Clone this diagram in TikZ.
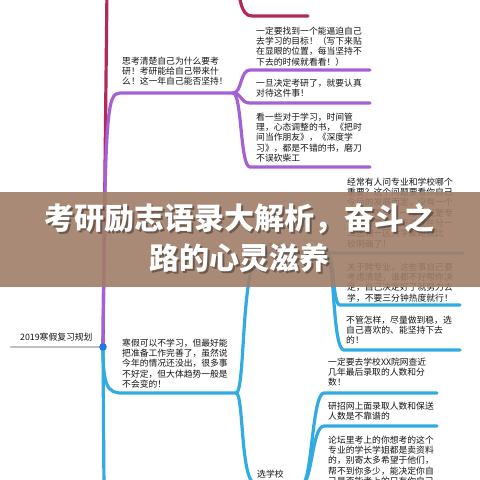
\documentclass[tikz,border=0pt]{standalone}
\usepackage{fontspec}
\newfontfamily\cjk{Noto Sans CJK SC}
\usepackage{xcolor}
\usepackage{tikz}
\usetikzlibrary{calc}
\definecolor{branchred}{RGB}{178, 42, 92}
\definecolor{branchpurple}{RGB}{166, 96, 214}
\definecolor{branchcyan}{RGB}{48, 172, 226}
\definecolor{rootgray}{RGB}{192, 192, 192}
\definecolor{hubblue}{RGB}{36, 118, 228}
\definecolor{bannerbrown}{RGB}{160, 126, 104}
\definecolor{notegray}{RGB}{20, 20, 20}
\newcommand{\bannertext}{考研励志语录大解析，奋斗之\\路的心灵滋养}

\begin{document}
\begin{tikzpicture}[x=1pt, y=-1pt,
  branchline/.style={line width=3.2pt, line cap=round},
  redbranch/.style={branchline, color=branchred},
  purplebranch/.style={branchline, color=branchpurple},
  cyanbranch/.style={branchline, color=branchcyan},
  note/.style={font=\cjk\fontsize{8.8}{10.3}\selectfont, align=left, anchor=north west, inner sep=0pt, text=notegray},
  topic/.style={font=\cjk\fontsize{8.8}{10.3}\selectfont, anchor=west, inner sep=0pt, text=notegray},
  titletext/.style={font=\cjk\bfseries\fontsize{30}{40}\selectfont, align=center, inner sep=0pt, text=white}]
\useasboundingbox (0,0) rectangle (480,480);
\clip (0,0) rectangle (480,480);
\fill[white] (0,0) rectangle (480,480);

% Junction points
\coordinate (rootstart) at (11,347);
\coordinate (hub) at (103,347);
\coordinate (redtop) at (107,-10);
\coordinate (redsub) at (236,-22);
\coordinate (redkid) at (252,16);
\coordinate (p0start) at (120,93);
\coordinate (p0end) at (233,93);
\coordinate (c0start) at (122,393);
\coordinate (c0end) at (236,393);
\coordinate (cyanbottom) at (104,490);
\coordinate (zystart) at (262,253);
\coordinate (zyend) at (326,253);
\coordinate (xxstart) at (256,484);
\coordinate (xxend) at (302,484);

% Main branches
\draw[branchline, color=rootgray, line width=2.4pt] (rootstart) -- (hub);
\draw[redbranch] (hub) -- (redtop);
\draw[redbranch] (redsub) .. controls (240,-4) and (240,16) .. (redkid) -- ++(56,0);
\draw[purplebranch] (hub) .. controls (105,110) and (107,93) .. (p0start) -- (p0end);
\draw[cyanbranch] (hub) -- (cyanbottom);
\draw[cyanbranch] (hub) .. controls (103,385) and (107,393) .. (c0start) -- (c0end);

% Purple children
\foreach \nm/\y in {p1/70, p2/103, p3/167} {
  \coordinate (\nm) at (250,\y);
  \draw[purplebranch] (p0end) .. controls (242,93) and (240,\y) .. (\nm) -- ++(120,0);
}

% Cyan children
\draw[cyanbranch] (c0end) .. controls (246,393) and (240,253) .. (zystart) -- (463,253);
\draw[cyanbranch] (c0end) .. controls (244,393) and (240,484) .. (xxstart) -- (xxend);
\foreach \nm/\x/\y in {s2/340/305, s3/344/350} {
  \coordinate (\nm) at (\x,\y);
  \draw[cyanbranch] (zyend) .. controls (335,253) and (332,\y) .. (\nm) -- (460,\y);
}
\foreach \nm/\y in {b1/393, b2/426, b3/505} {
  \coordinate (\nm) at (324,\y);
  \draw[cyanbranch] (xxend) .. controls (312,484) and (312,\y) .. (\nm) -- (437,\y);
}

% Texts
\node[topic] (root) at (20,337) {2019寒假复习规划};
\node[note] (p0text) at (122,56.6) {思考清楚自己为什么要考\\研！考研能给自己带来什\\么！这一年自己能否坚持！};
\node[note] (p1text) at (256,26.6) {一定要找到一个能逼迫自己\\去学习的目标！（写下来贴\\在显眼的位置，每当坚持不\\下去的时候就看看！）};
\node[note] (p2text) at (256,78.6) {一旦决定考研了，就要认真\\对待这件事！};
\node[note] (p3text) at (256,112.6) {看一些对于学习，时间管\\理，心态调整的书，《把时\\间当作朋友》，《深度学\\习》，都是不错的书，磨刀\\不误砍柴工};
\node[note] (c0text) at (122,338.6) {寒假可以不学习，但最好能\\把准备工作完善了，虽然说\\今年的情况还没出，很多事\\不好定，但大体趋势一般是\\不会变的！};
\node[topic] (zytext) at (258,247) {选专业};
\node[note] (s1text) at (347,177.6) {经常有人问专业和学校哪个\\重要？这个问题要看你自己\\今后的发展而定，没有一个\\固定的答案，一般来说是专\\业更重要些，不过现在分一\\二区和一区大学差距就比\\较明确了！};
\node[note] (s2text) at (347,262.6) {关于跨专业，这些事自己要\\考虑清楚，谁都不好帮你决\\定，自己决定好了就努力去\\学，不要三分钟热度就行！};
\node[note] (s3text) at (346,315.6) {不管怎样，尽量做到稳，选\\自己喜欢的、能坚持下去\\的！};
\node[topic] (xxtext) at (257,474) {选学校};
\node[note] (b1text) at (328,357.6) {一定要去学校XX院网查近\\几年最后录取的人数和分\\数！};
\node[note] (b2text) at (328,401.6) {研招网上面录取人数和保送\\人数是不靠谱的};
\node[note] (b3text) at (328,435.6) {论坛里考上的你想考的这个\\专业的学长学姐都是卖资料\\的，别寄太多希望于他们，\\帮不到你多少，能决定你自\\己是否能考上的只有你自己};

% Hub dot
\fill[hubblue] (hub) circle (3.8);

% Banner with title
\fill[bannerbrown, opacity=0.9] (0,192) rectangle (480,287);
\node[titletext, text=black, opacity=0.35] (titleshadow) at (241.5,239.5) {\bannertext};
\node[titletext] (title) at (240,238) {\bannertext};
\end{tikzpicture}
\end{document}
